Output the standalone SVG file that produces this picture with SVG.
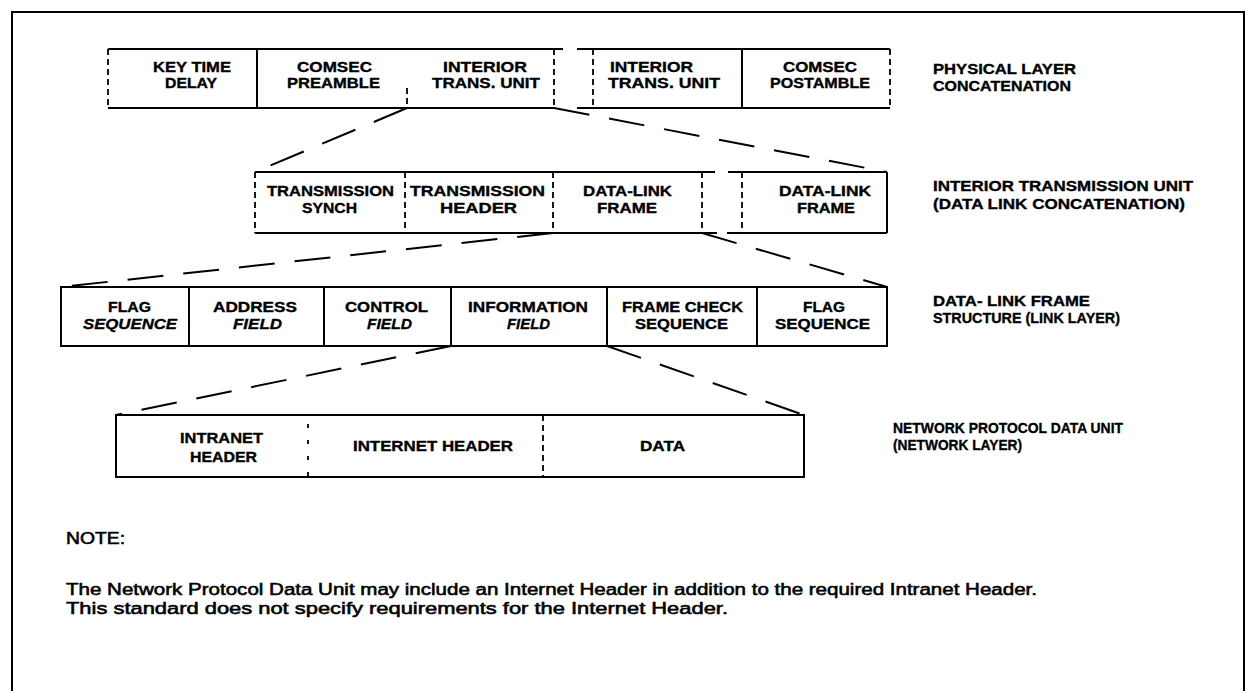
<svg xmlns="http://www.w3.org/2000/svg" width="1256" height="691" viewBox="0 0 1256 691">
  <style>
    .ln { fill: none; stroke: #000; stroke-width: 2; }
    .dl { fill: none; stroke: #000; stroke-width: 1.8; stroke-dasharray: 6 4; }
    .sp { fill: none; stroke: #000; stroke-width: 1.8; stroke-dasharray: 4 12; }
    .con { fill: none; stroke: #000; stroke-width: 2; stroke-dasharray: 36 20; }
    text { font-family: "Liberation Sans", Arial, sans-serif; fill: #000; }
    .t { font-size: 15px; font-weight: bold; stroke: #000; stroke-width: 0.35; }
    .it { font-style: italic; }
    .p { font-size: 16px; stroke: #000; stroke-width: 0.55; }
  </style>

  <rect x="0" y="0" width="1256" height="691" fill="#fff"/>

  <!-- page frame -->
  <path class="ln" d="M12,691 V12 H1244 V691"/>

  <!-- physical layer row outline -->
  <g id="row-physical">
    <path class="ln" d="M108,49 H563 M577,49 H890 M108,108 H554 M577,108 H890 M257,49 V108 M742,49 V108"/>
    <path class="dl" d="M108,49 V108 M407,88 V108 M554,49 V108 M593,49 V108 M890,49 V108"/>
  </g>
  <g id="key-time-delay">
    <text class="t" x="153" y="72" textLength="78" lengthAdjust="spacingAndGlyphs">KEY TIME</text>
    <text class="t" x="165" y="88" textLength="52" lengthAdjust="spacingAndGlyphs">DELAY</text>
  </g>
  <g id="comsec-preamble">
    <text class="t" x="297" y="72" textLength="75" lengthAdjust="spacingAndGlyphs">COMSEC</text>
    <text class="t" x="287" y="88" textLength="93" lengthAdjust="spacingAndGlyphs">PREAMBLE</text>
  </g>
  <g id="interior-trans-unit-1">
    <text class="t" x="443" y="72" textLength="84" lengthAdjust="spacingAndGlyphs">INTERIOR</text>
    <text class="t" x="432" y="88" textLength="108" lengthAdjust="spacingAndGlyphs">TRANS. UNIT</text>
  </g>
  <g id="interior-trans-unit-2">
    <text class="t" x="610" y="72" textLength="83" lengthAdjust="spacingAndGlyphs">INTERIOR</text>
    <text class="t" x="608" y="88" textLength="112" lengthAdjust="spacingAndGlyphs">TRANS. UNIT</text>
  </g>
  <g id="comsec-postamble">
    <text class="t" x="783" y="72" textLength="74" lengthAdjust="spacingAndGlyphs">COMSEC</text>
    <text class="t" x="770" y="88" textLength="100" lengthAdjust="spacingAndGlyphs">POSTAMBLE</text>
  </g>

  <!-- interior transmission unit row outline -->
  <g id="row-itu">
    <path class="ln" d="M255,172 H715 M728,172 H887 M255,233 H717 M727,233 H887 M887,172 V233"/>
    <path class="dl" d="M255,172 V233 M405,172 V233 M553,172 V233 M702,172 V233 M742,172 V233"/>
  </g>
  <g id="transmission-synch">
    <text class="t" x="267" y="196" textLength="127" lengthAdjust="spacingAndGlyphs">TRANSMISSION</text>
    <text class="t" x="302" y="213" textLength="55" lengthAdjust="spacingAndGlyphs">SYNCH</text>
  </g>
  <g id="transmission-header">
    <text class="t" x="410" y="196" textLength="135" lengthAdjust="spacingAndGlyphs">TRANSMISSION</text>
    <text class="t" x="440" y="213" textLength="77" lengthAdjust="spacingAndGlyphs">HEADER</text>
  </g>
  <g id="data-link-frame-1">
    <text class="t" x="583" y="196" textLength="89" lengthAdjust="spacingAndGlyphs">DATA-LINK</text>
    <text class="t" x="597" y="213" textLength="60" lengthAdjust="spacingAndGlyphs">FRAME</text>
  </g>
  <g id="data-link-frame-2">
    <text class="t" x="779" y="196" textLength="92" lengthAdjust="spacingAndGlyphs">DATA-LINK</text>
    <text class="t" x="797" y="213" textLength="58" lengthAdjust="spacingAndGlyphs">FRAME</text>
  </g>

  <!-- data-link frame row outline -->
  <g id="row-frame">
    <rect class="ln" x="61" y="287" width="826" height="59"/>
    <path class="ln" d="M189,287 V346 M324,287 V346 M451,287 V346 M607,287 V346 M757,287 V346"/>
  </g>
  <g id="flag-sequence-1">
    <text class="t" x="108" y="312" textLength="43" lengthAdjust="spacingAndGlyphs">FLAG</text>
    <text class="t it" x="83" y="329" textLength="94" lengthAdjust="spacingAndGlyphs">SEQUENCE</text>
  </g>
  <g id="address-field">
    <text class="t" x="213" y="312" textLength="84" lengthAdjust="spacingAndGlyphs">ADDRESS</text>
    <text class="t it" x="233" y="329" textLength="49" lengthAdjust="spacingAndGlyphs">FIELD</text>
  </g>
  <g id="control-field">
    <text class="t" x="345" y="312" textLength="83" lengthAdjust="spacingAndGlyphs">CONTROL</text>
    <text class="t it" x="367" y="329" textLength="45" lengthAdjust="spacingAndGlyphs">FIELD</text>
  </g>
  <g id="information-field">
    <text class="t" x="468" y="312" textLength="120" lengthAdjust="spacingAndGlyphs">INFORMATION</text>
    <text class="t it" x="507" y="329" textLength="43" lengthAdjust="spacingAndGlyphs">FIELD</text>
  </g>
  <g id="frame-check-sequence">
    <text class="t" x="622" y="312" textLength="121" lengthAdjust="spacingAndGlyphs">FRAME CHECK</text>
    <text class="t" x="635" y="329" textLength="93" lengthAdjust="spacingAndGlyphs">SEQUENCE</text>
  </g>
  <g id="flag-sequence-2">
    <text class="t" x="803" y="312" textLength="42" lengthAdjust="spacingAndGlyphs">FLAG</text>
    <text class="t" x="775" y="329" textLength="95" lengthAdjust="spacingAndGlyphs">SEQUENCE</text>
  </g>

  <!-- network protocol data unit row outline -->
  <g id="row-npdu">
    <rect class="ln" x="116" y="415" width="688" height="62"/>
    <path class="sp" d="M308,424 V477"/>
    <path class="dl" d="M543,415 V477"/>
  </g>
  <g id="intranet-header">
    <text class="t" x="180" y="443" textLength="83" lengthAdjust="spacingAndGlyphs">INTRANET</text>
    <text class="t" x="190" y="462" textLength="67" lengthAdjust="spacingAndGlyphs">HEADER</text>
  </g>
  <g id="internet-header">
    <text class="t" x="353" y="451" textLength="160" lengthAdjust="spacingAndGlyphs">INTERNET HEADER</text>
  </g>
  <g id="data">
    <text class="t" x="640" y="451" textLength="45" lengthAdjust="spacingAndGlyphs">DATA</text>
  </g>

  <!-- expansion lines between layers -->
  <g id="connectors">
    <path class="con" d="M407,108 L255,172"/>
    <path class="con" d="M554,108 L887,172"/>
    <path class="con" d="M553,233 L61,287"/>
    <path class="con" d="M702,233 L887,287"/>
    <path class="con" d="M451,346 L116,415"/>
    <path class="con" d="M607,346 L804,415"/>
  </g>

  <!-- layer captions -->
  <g id="layer-captions">
    <text class="t" x="933" y="74" textLength="143" lengthAdjust="spacingAndGlyphs">PHYSICAL LAYER</text>
    <text class="t" x="933" y="91" textLength="138" lengthAdjust="spacingAndGlyphs">CONCATENATION</text>
    <text class="t" x="933" y="191" textLength="260" lengthAdjust="spacingAndGlyphs">INTERIOR TRANSMISSION UNIT</text>
    <text class="t" x="933" y="209" textLength="252" lengthAdjust="spacingAndGlyphs">(DATA LINK CONCATENATION)</text>
    <text class="t" x="933" y="306" textLength="157" lengthAdjust="spacingAndGlyphs">DATA- LINK FRAME</text>
    <text class="t" x="933" y="323" textLength="187" lengthAdjust="spacingAndGlyphs">STRUCTURE (LINK LAYER)</text>
    <text class="t" x="893" y="433" textLength="230" lengthAdjust="spacingAndGlyphs">NETWORK PROTOCOL DATA UNIT</text>
    <text class="t" x="893" y="450" textLength="129" lengthAdjust="spacingAndGlyphs">(NETWORK LAYER)</text>
  </g>

  <!-- note -->
  <g id="note">
    <text class="p" x="66" y="544" textLength="59" lengthAdjust="spacingAndGlyphs">NOTE:</text>
    <text class="p" x="66" y="595" textLength="971" lengthAdjust="spacingAndGlyphs">The Network Protocol Data Unit may include an Internet Header in addition to the required Intranet Header.</text>
    <text class="p" x="66" y="614" textLength="662" lengthAdjust="spacingAndGlyphs">This standard does not specify requirements for the Internet Header.</text>
  </g>
</svg>
